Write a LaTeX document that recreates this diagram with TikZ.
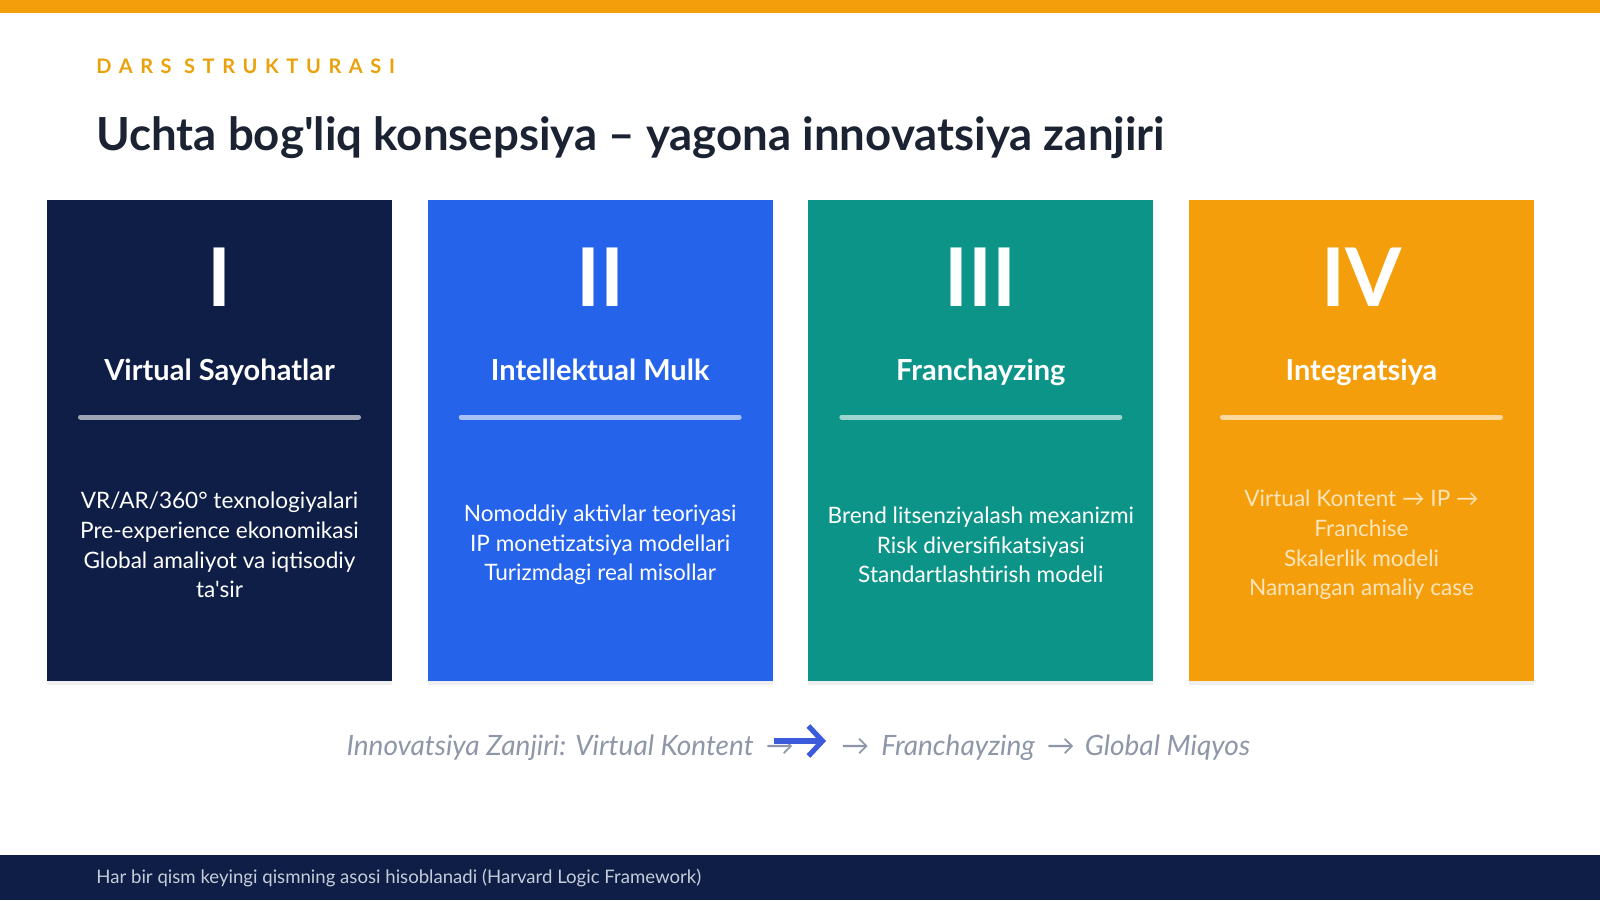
\documentclass[tikz,border=0pt]{standalone}
\usepackage{fontspec}
\setmainfont{Lato}[Ligatures=TeXOff]
\usepackage{tikz}
\usetikzlibrary{arrows.meta,shadows,positioning}
\definecolor{amber}{HTML}{F59E0B}
\definecolor{kick}{HTML}{E9A20C}
\definecolor{navy}{HTML}{0F1E46}
\definecolor{royal}{HTML}{2563EB}
\definecolor{teal}{HTML}{0D9488}
\definecolor{ink}{HTML}{1B2232}
\definecolor{chaingray}{HTML}{8E97A8}
\definecolor{footgray}{HTML}{C5CCD9}
\definecolor{ipblue}{HTML}{3B5BDB}
\tikzset{
  card/.style={draw=none, inner sep=0pt, minimum width=172.5pt, minimum height=240.5pt,
    drop shadow={opacity=0.12, shadow xshift=0pt, shadow yshift=-2pt}},
  numeral/.style={text=white, anchor=base, inner sep=0pt, font=\fontsize{40.5}{41}\selectfont\bfseries},
  cardttl/.style={text=white, anchor=base, inner sep=0pt, font=\fontsize{14.5}{17}\selectfont\bfseries},
  cardbody/.style={align=center, inner sep=0pt, font=\fontsize{11.3}{14.8}\selectfont},
  rule/.style={draw=white, draw opacity=0.6, line width=2.5pt, line cap=round},
  chain/.style={text=chaingray, anchor=base, inner sep=0pt, font=\fontsize{14}{16}\selectfont\itshape},
  iparrow/.style={draw=ipblue, line width=2.6pt, -{Straight Barb[length=7pt,width=15pt]}},
}

\begin{document}
\begin{tikzpicture}[x=0.5pt,y=-0.5pt]
  \useasboundingbox (0,0) rectangle (1600,900);
  \fill[white] (0,0) rectangle (1600,900);
  \fill[amber] (0,0) rectangle (1600,13);

  \node[anchor=base west, inner sep=0pt, text=kick,
    font=\fontsize{10}{12}\selectfont\bfseries\addfontfeatures{LetterSpace=38}]
    (kicker) at (96,73) {DARS STRUKTURASI};
  \node[anchor=base west, inner sep=0pt, text=ink, font=\fontsize{22.8}{26}\selectfont\bfseries]
    (title) at (96,150) {Uchta bog'liq konsepsiya – yagona innovatsiya zanjiri};

  % four cards
  \foreach \i/\col/\num/\ttl/\bodycol/\body in {
    1/navy/I/{Virtual Sayohatlar}/white/{VR/AR/360° texnologiyalari\\Pre-experience ekonomikasi\\Global amaliyot va iqtisodiy\\ta'sir},
    2/royal/II/{Intellektual Mulk}/white/{Nomoddiy aktivlar teoriyasi\\IP monetizatsiya modellari\\Turizmdagi real misollar},
    3/teal/III/{Franchayzing}/white/{Brend litsenziyalash mexanizmi\\Risk diversifikatsiyasi\\Standartlashtirish modeli},
    4/amber/IV/{Integratsiya}/white!72!amber/{Virtual Kontent → IP →\\Franchise\\Skalerlik modeli\\Namangan amaliy case}} {
    \pgfmathsetmacro\cx{219.5+380.67*(\i-1)}
    \node[card, fill=\col] (card\i) at (\cx,440) {};
    \node[numeral] (num\i) at (\cx,306) {\num};
    \node[cardttl] (ttl\i) at (\cx,380) {\ttl};
    \draw[rule] (\cx-139,417) -- (\cx+139,417);
    \node[cardbody, text=\bodycol] (body\i) at (\cx,545) {\body};
  }

  % chain line
  \node[chain, anchor=base east] (chainL) at (794,755) {Innovatsiya Zanjiri: Virtual Kontent\hspace{6pt}→};
  \coordinate (ipA) at (774,741);
  \coordinate (ipB) at (826,741);
  \draw[iparrow] (ipA) -- (ipB);
  \node[chain, anchor=base west] (chainR) at (841,755) {→\hspace{6pt}Franchayzing\hspace{6pt}→\hspace{5pt}Global Miqyos};

  % footer
  \fill[navy] (0,855) rectangle (1600,900);
  \node[anchor=base west, inner sep=0pt, text=footgray, font=\fontsize{9.3}{11}\selectfont]
    (foot) at (96,883) {Har bir qism keyingi qismning asosi hisoblanadi (Harvard Logic Framework)};
\end{tikzpicture}
\end{document}
